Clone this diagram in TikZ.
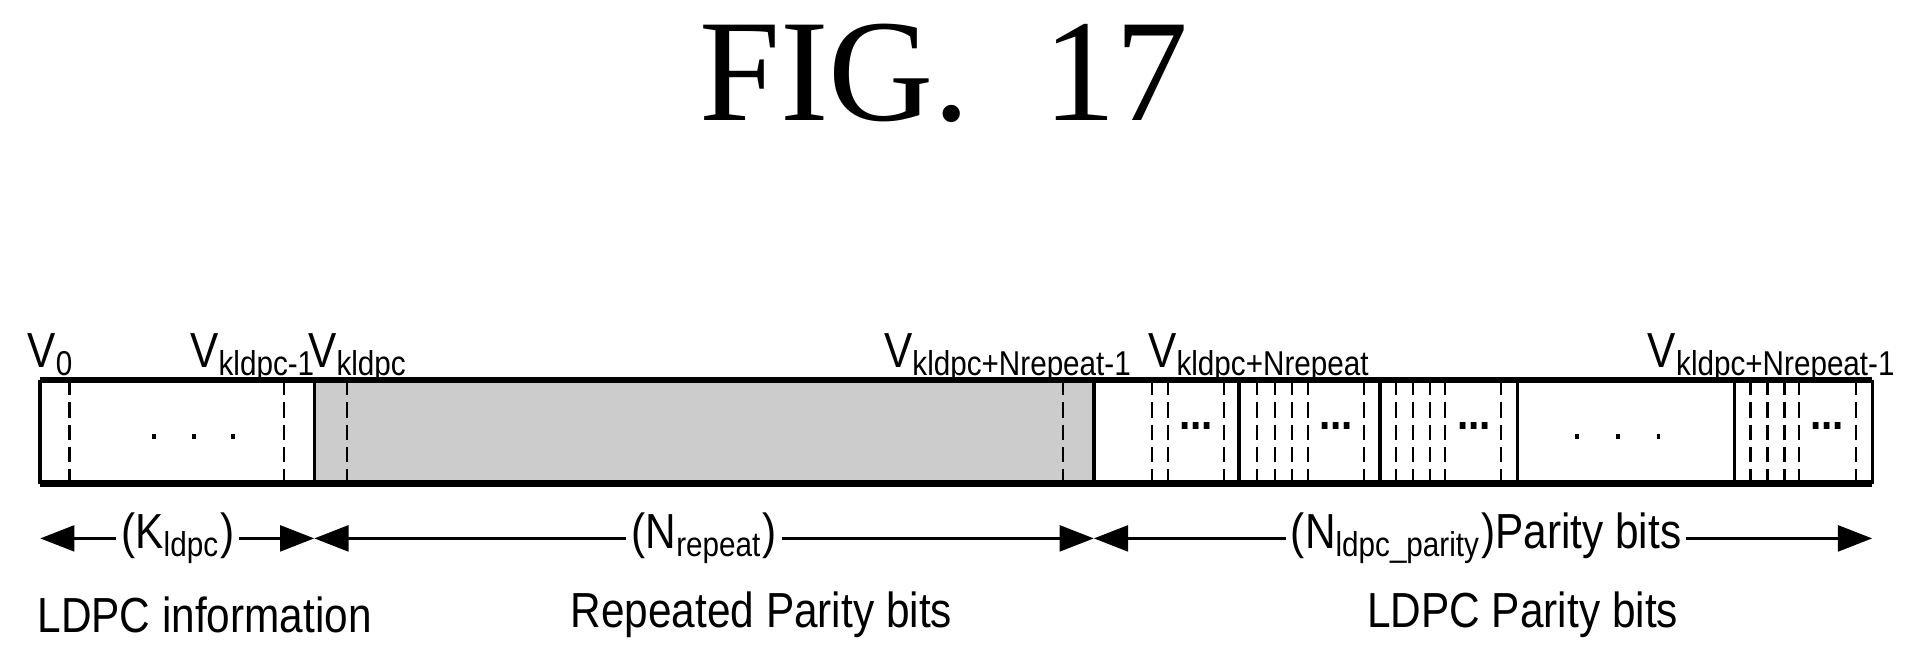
\documentclass[tikz,border=0pt]{standalone}
\usepackage{fontspec}
\setmainfont{Liberation Sans}[FakeStretch=0.86]
\newfontfamily\figfont{Liberation Serif}
\usetikzlibrary{arrows.meta, positioning}

\begin{document}
\begin{tikzpicture}[x=0.01cm, y=-0.01cm, >={Triangle[length=8pt,width=6pt]},
			lbl/.style={font=\fontsize{11.5}{13}\selectfont, inner sep=1pt},
			dsh/.style={dash pattern=on 3.6pt off 1.6pt, line width=0.5pt},
			sld/.style={line width=0.8pt},
			dotrow/.style={font=\fontsize{11}{13}\selectfont\bfseries}]
			\useasboundingbox (0,0) rectangle (1568,546);
			
			% titolo
			\node[font=\figfont\fontsize{34}{40}\selectfont] (fig) at (775,60) {FIG.\ \ 17};
			
			% blocco del codeword
			\fill[black!20] (258,312) rectangle (898,397);
			\draw[line width=1.6pt] (33,312) -- (1537,312) (33,397) -- (1537,397);
			\foreach \x in {33,258,898,1017,1133,1246,1424,1537}
				\draw[sld] (\x,312) -- (\x,397);
			\foreach \x in {57,233,285,873,946,959,1005,1032,1047,1061,1074,1120,1146,1160,1174,1186,1232,1437,1451,1465,1477,1524}
				\draw[dsh] (\x,312) -- (\x,397);
			
			% puntini
			\foreach \x in {125,158,190,1293,1327,1360}
				\fill (\x,356) rectangle ++(3,4);
			\foreach \x in {982,1097,1210,1500}
				\node[dotrow] (d\x) at (\x,350) {...};
			
			% etichette dei bit
			\node[lbl, anchor=base] (v0) at (43,302) {V$_{\mathrm{0}}$};
			\node[lbl, anchor=base] (v1) at (208,302) {V\textsubscript{kldpc-1}};
			\node[lbl, anchor=base] (v2) at (294,302) {V\textsubscript{kldpc}};
			\node[lbl, anchor=base] (v3) at (828,302) {V\textsubscript{kldpc+Nrepeat-1}};
			\node[lbl, anchor=base] (v4) at (1034,302) {V\textsubscript{kldpc+Nrepeat}};
			\node[lbl, anchor=base] (v5) at (1455,302) {V\textsubscript{kldpc+Nrepeat-1}};
			
			% frecce delle lunghezze
			\coordinate (a0) at (33,442);
			\coordinate (a1) at (258,442);
			\coordinate (a2) at (898,442);
			\coordinate (a3) at (1537,442);
			\node[lbl, fill=white] (kl) at (146,442) {(K\textsubscript{ldpc})};
			\node[lbl, fill=white] (nr) at (578,442) {(N\textsubscript{repeat})};
			\node[lbl, fill=white] (np) at (1220,442) {(N\textsubscript{ldpc\_parity})Parity bits};
			\draw[->, line width=0.8pt] (kl) -- (a0);
			\draw[->, line width=0.8pt] (kl) -- (a1);
			\draw[->, line width=0.8pt] (nr) -- (a1);
			\draw[->, line width=0.8pt] (nr) -- (a2);
			\draw[->, line width=0.8pt] (np) -- (a2);
			\draw[->, line width=0.8pt] (np) -- (a3);
			
			% didascalie
			\node[lbl] (li) at (168,505) {LDPC information};
			\node[lbl] (rp) at (625,505) {Repeated Parity bits};
			\node[lbl] (lp) at (1250,505) {LDPC Parity bits};
		\end{tikzpicture}
\end{document}
